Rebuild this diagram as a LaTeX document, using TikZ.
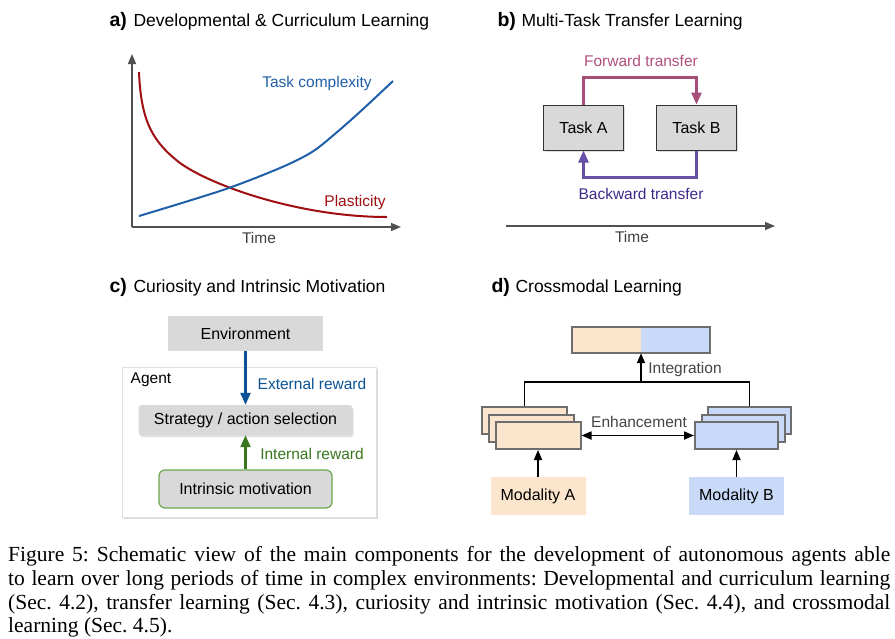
\documentclass[tikz,border=0pt]{standalone}
\usepackage{fontspec}
\setmainfont{Liberation Sans}
\newfontfamily\capfont{Liberation Serif}
\usetikzlibrary{arrows.meta,shadows}
\definecolor{plasred}{HTML}{A10E12}
\definecolor{cplxblue}{HTML}{1F60A8}
\definecolor{boxgray}{HTML}{D9D9D9}
\definecolor{axisgray}{HTML}{505050}
\definecolor{fwdline}{HTML}{A64D79}
\definecolor{fwdtext}{HTML}{B0507E}
\definecolor{bwdline}{HTML}{674EA7}
\definecolor{bwdtext}{HTML}{3F2A8C}
\definecolor{extblue}{HTML}{0B5394}
\definecolor{intgreen}{HTML}{38761D}
\definecolor{greenborder}{HTML}{6AA84F}
\definecolor{modA}{HTML}{FCE5CD}
\definecolor{modB}{HTML}{C9DAF8}
\definecolor{stackborder}{HTML}{6E6E6E}
\definecolor{labelgray}{HTML}{444444}
\tikzset{
  title/.style={anchor=base west, font=\fontsize{17.5}{20}\selectfont},
  titlelabel/.style={anchor=base west, font=\fontsize{19.5}{22}\selectfont\bfseries},
  axisline/.style={draw=axisgray, line width=1.5pt, -{Triangle[length=10pt,width=8pt]}},
  lbl/.style={font=\fontsize{15.5}{18}\selectfont, inner sep=0pt},
  taskbox/.style={draw=black!80, fill=boxgray, line width=1pt, minimum width=80pt, minimum height=45pt,
    font=\fontsize{16}{19}\selectfont, drop shadow={shadow xshift=1.5pt, shadow yshift=-1.5pt, opacity=0.25}},
  envbox/.style={fill=boxgray, minimum width=155pt, minimum height=35pt, font=\fontsize{16}{19}\selectfont},
  agentbox/.style={fill=white, draw=black!12, minimum width=254pt, minimum height=150pt,
    drop shadow={shadow xshift=1.5pt, shadow yshift=-1.5pt, opacity=0.3}},
  stratbox/.style={fill=boxgray, rounded corners=3pt, minimum width=214pt, minimum height=30pt,
    font=\fontsize{16}{19}\selectfont, drop shadow={shadow xshift=1pt, shadow yshift=-2pt, opacity=0.25}},
  motivbox/.style={fill=boxgray, draw=greenborder, line width=1.2pt, rounded corners=6pt, minimum width=173pt,
    minimum height=38pt, font=\fontsize{16}{19}\selectfont},
  stackbox/.style={draw=stackborder, line width=2pt, minimum width=85pt, minimum height=27pt},
  modbox/.style={minimum width=95pt, minimum height=38pt, font=\fontsize{16}{19}\selectfont},
  darrow/.style={draw=black, line width=1.7pt},
  dtip/.style={-{Triangle[length=10pt,width=8pt]}},
  bigtip/.style={-{Triangle[length=12pt,width=10pt]}},
  caption/.style={anchor=base west, inner sep=0pt, font=\capfont\fontsize{21.5}{24}\selectfont}
}
\begin{document}
\frenchspacing
\begin{tikzpicture}[x=1pt,y=-1pt]
\useasboundingbox[fill=white] (0,0) rectangle (895,638);

% ---------- titles ----------
\node[titlelabel] (tal) at (106,26) {a)};
\node[title] (tat) at (130,26) {Developmental \& Curriculum Learning};
\node[titlelabel] (tbl) at (494,26) {b)};
\node[title] (tbt) at (518,26) {Multi-Task Transfer Learning};
\node[titlelabel] (tcl) at (106,292) {c)};
\node[title] (tct) at (130,292) {Curiosity and Intrinsic Motivation};
\node[titlelabel] (tdl) at (488,292) {d)};
\node[title] (tdt) at (512,292) {Crossmodal Learning};

% ---------- panel a ----------
\coordinate (aO) at (132,227);
\coordinate (aY) at (132,54);
\coordinate (aX) at (401,227);
\draw[axisline] (aO) -- (aY);
\draw[axisline] (aO) -- (aX);
\node[lbl, text=black!75] (atime) at (259,238) {Time};
\coordinate (p0) at (139,72);
\coordinate (p1) at (180,163);
\coordinate (p2) at (387,217);
\draw[plasred, line width=2pt] (p0) .. controls (141,122) and (153,142) .. (p1)
  .. controls (212,186) and (300,217) .. (p2);
\draw[cplxblue, line width=2pt] plot[smooth, tension=0.5] coordinates {
  (139,216) (223,190) (280,168) (312,152) (336,133) (362,110) (393,81)};
\node[lbl, text=cplxblue] (acplx) at (317,83) {Task complexity};
\node[lbl, text=plasred] (aplas) at (355,202) {Plasticity};

% ---------- panel b ----------
\node[taskbox] (ta) at (583.5,127.5) {Task A};
\node[taskbox] (tb) at (696.5,127.5) {Task B};
\draw[fwdline, line width=2.6pt, bigtip] (ta.north) -- ++(0,-27) -| (tb.north);
\draw[bwdline, line width=2.6pt, bigtip] (tb.south) -- ++(0,27) -| (ta.south);
\node[lbl, text=fwdtext] (bfwd) at (641,61) {Forward transfer};
\node[lbl, text=bwdtext] (bbwd) at (641,194) {Backward transfer};
\coordinate (bt0) at (506,226);
\coordinate (bt1) at (775,226);
\draw[axisline, line width=1.3pt] (bt0) -- (bt1);
\node[lbl, text=black!75] (btime) at (632,237) {Time};

% ---------- panel c ----------
\node[agentbox] (agent) at (249,442) {};
\node[lbl] (agentl) at (151,380) {Agent};
\node[envbox] (env) at (245.5,333.5) {Environment};
\node[stratbox] (strat) at (245.5,420) {Strategy / action selection};
\node[motivbox] (motiv) at (245.5,489) {Intrinsic motivation};
\draw[extblue, line width=2.2pt, bigtip] (env.south) -- (strat.north);
\draw[intgreen, line width=2.2pt, bigtip] (motiv.north) -- (strat.south);
\node[lbl, text=extblue] (extl) at (312,384) {External reward};
\node[lbl, text=intgreen] (intl) at (312,454) {Internal reward};

% ---------- panel d ----------
\node[minimum width=138pt, minimum height=26pt, inner sep=0pt] (integ) at (641,340) {};
\fill[modA] (integ.north west) rectangle (integ.south);
\fill[modB] (integ.north) rectangle (integ.south east);
\draw[stackborder, line width=2pt] (integ.north west) rectangle (integ.south east);

\node[stackbox, fill=modA] (sa1) at (524.5,420.5) {};
\node[stackbox, fill=modA] (sa2) at (531,428) {};
\node[stackbox, fill=modA] (sa3) at (538,435.5) {};
\node[stackbox, fill=modB, minimum width=83pt] (sb1) at (749.5,420.5) {};
\node[stackbox, fill=modB, minimum width=83pt] (sb2) at (743,428) {};
\node[stackbox, fill=modB, minimum width=83pt] (sb3) at (736.5,435.5) {};

\coordinate (jA) at (524.5,382);
\coordinate (jB) at (749.5,382);
\coordinate (jM) at (641,382);
\draw[darrow] (sa1.north) -- (jA) -- (jB) -- (sb1.north);
\draw[darrow, dtip] (jM) -- (integ.south);
\node[lbl, text=labelgray] (integl) at (685,369) {Integration};

\draw[darrow, {Triangle[length=10pt,width=8pt]}-{Triangle[length=10pt,width=8pt]}] (sa3.east) -- (sb3.west);
\node[lbl, text=labelgray] (enhl) at (639,422) {Enhancement};

\node[modbox, fill=modA] (ma) at (538,496) {Modality A};
\node[modbox, fill=modB] (mb) at (736.5,496) {Modality B};
\draw[darrow, dtip] (ma.north) -- (sa3.south);
\draw[darrow, dtip] (mb.north) -- (sb3.south);

% ---------- caption ----------
\node[caption] (cap1) at (8,561.5) {\makebox[882pt][s]{Figure 5: Schematic view of the main components for the development of autonomous agents able}};
\node[caption] (cap2) at (8,585.5) {\makebox[882pt][s]{to learn over long periods of time in complex environments: Developmental and curriculum learning}};
\node[caption] (cap3) at (8,609) {\makebox[882pt][s]{(Sec. 4.2), transfer learning (Sec. 4.3), curiosity and intrinsic motivation (Sec. 4.4), and crossmodal}};
\node[caption] (cap4) at (8,632) {learning (Sec. 4.5).};
\end{tikzpicture}
\end{document}
